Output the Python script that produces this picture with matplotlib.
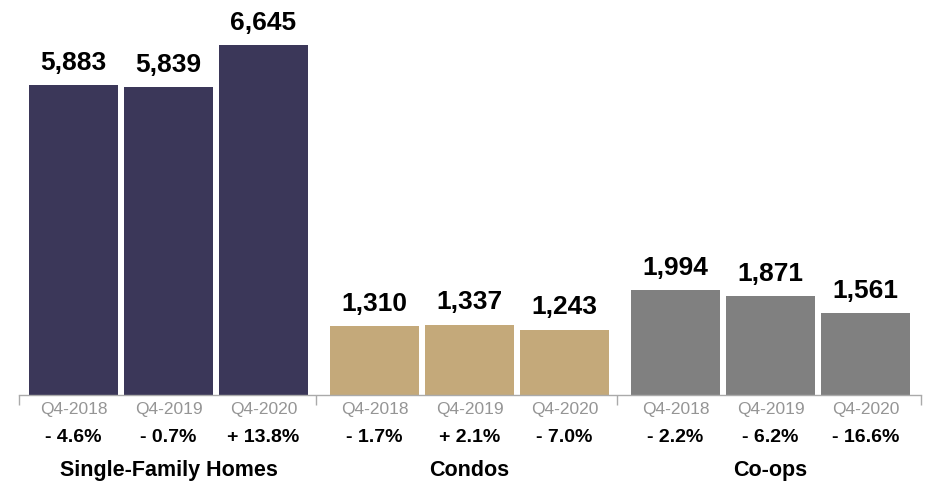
"""Sales by property type, Q4 comparison"""
import matplotlib
matplotlib.use("Agg")
import matplotlib.pyplot as plt
import matplotlib.transforms as mtransforms

plt.rcParams['font.family'] = ['Liberation Sans', 'DejaVu Sans']

groups = ['Single-Family Homes', 'Condos', 'Co-ops']
periods = ['Q4-2018', 'Q4-2019', 'Q4-2020']
sales = [
    [5883, 5839, 6645],
    [1310, 1337, 1243],
    [1994, 1871, 1561],
]
changes = [
    ['- 4.6%', '- 0.7%', '+ 13.8%'],
    ['- 1.7%', '+ 2.1%', '- 7.0%'],
    ['- 2.2%', '- 6.2%', '- 16.6%'],
]
colors = ['#3b3759', '#c4a97a', '#808080']

fig = plt.figure(figsize=(9.3, 4.85), dpi=100)
ax = fig.add_axes([19 / 930, 89 / 485, 902 / 930, 396 / 485])

group_step = 301 / 95
bar_w = 89 / 95
xs_all = []
for g, vals in enumerate(sales):
    xs = [g * group_step + i for i in range(len(vals))]
    xs_all.append(xs)
    ax.bar(xs, vals, width=bar_w, color=colors[g], linewidth=0)
    for x, v in zip(xs, vals):
        ax.annotate(f'{v:,}', (x, v), xytext=(0, 8), textcoords='offset points',
                    ha='center', va='bottom', fontsize=19, fontweight='bold')

ax.set_ylim(0, 6645 * 396 / 350)
left = -54.5 / 95
right = xs_all[-1][-1] + 55.5 / 95
ax.set_xlim(left, right)

for s in ['top', 'left', 'right']:
    ax.spines[s].set_visible(False)
ax.spines['bottom'].set_color('#aaaaaa')
ax.spines['bottom'].set_linewidth(1)
ax.set_yticks([])

bounds = [left] + [g * group_step - 0.5 - 11 / 95 for g in range(1, 3)] + [right]
ax.set_xticks(bounds)
ax.set_xticklabels([])
ax.tick_params(axis='x', length=7, width=1, color='#aaaaaa', direction='out')

trans = mtransforms.blended_transform_factory(ax.transData, fig.transFigure)
for g in range(len(groups)):
    for i, x in enumerate(xs_all[g]):
        ax.text(x, 1 - 410 / 485, periods[i], transform=trans, ha='center', va='center',
                fontsize=12.5, color='#959595')
        ax.text(x, 1 - 438 / 485, changes[g][i], transform=trans, ha='center', va='center',
                fontsize=14, fontweight='bold')
    ax.text(xs_all[g][1], 1 - 471 / 485, groups[g], transform=trans, ha='center', va='center',
            fontsize=15.5, fontweight='bold')

fig.savefig('out.png', dpi=100)
